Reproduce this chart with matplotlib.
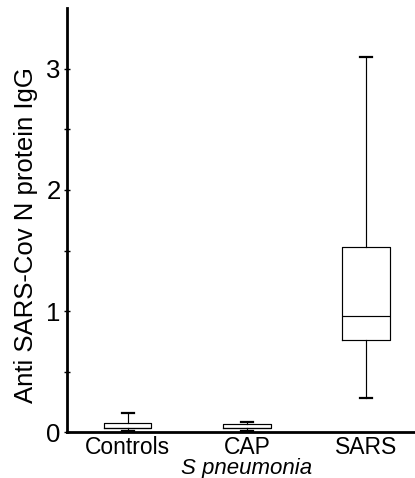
import matplotlib
matplotlib.use("Agg")
import matplotlib.pyplot as plt

categories = ["Controls", "CAP", "SARS"]
whislo = [0.012, 0.012, 0.28]
q1 = [0.03, 0.03, 0.76]
med = [0.03, 0.03, 0.96]
q3 = [0.075, 0.07, 1.53]
whishi = [0.16, 0.085, 3.10]

plt.rcParams['font.family'] = ['Liberation Sans', 'DejaVu Sans']

fig = plt.figure(figsize=(4.15, 4.78), dpi=100)
ax = fig.add_axes([0.161, 0.096, 0.839, 0.8865])

stats = []
for i, c in enumerate(categories):
    stats.append(dict(label=c, whislo=whislo[i], q1=q1[i], med=med[i],
                      q3=q3[i], whishi=whishi[i], fliers=[]))

ax.bxp(stats, positions=[1, 2, 3], widths=0.4, capwidths=0.1,
       showfliers=False,
       boxprops=dict(color='black', linewidth=0.85),
       medianprops=dict(color='black', linewidth=0.85),
       whiskerprops=dict(color='black', linewidth=0.85),
       capprops=dict(color='black', linewidth=1.6))

ax.set_xlim(0.49, 3.41)
ax.set_ylim(0, 3.5)
ax.set_yticks([0, 1, 2, 3])
ax.set_yticks([0.5, 1.5, 2.5], minor=True)
ax.spines['top'].set_visible(False)
ax.spines['right'].set_visible(False)
ax.spines['left'].set_linewidth(2)
ax.spines['bottom'].set_linewidth(2)
ax.tick_params(axis='y', which='major', direction='inout', length=5, width=1, labelsize=18.5, pad=2)
ax.tick_params(axis='y', which='minor', direction='inout', length=4, width=1)
ax.tick_params(axis='x', which='both', length=0, labelsize=16.5, pad=3)
ax.set_ylabel("Anti SARS-Cov N protein IgG", fontsize=18.5)
ax.yaxis.set_label_coords(-0.084, 0.465)
ax.text(2, -0.343, "S pneumonia", style='italic', fontsize=16, ha='center', va='baseline',
        transform=ax.transData, clip_on=False)

fig.savefig("out.png", dpi=100)
